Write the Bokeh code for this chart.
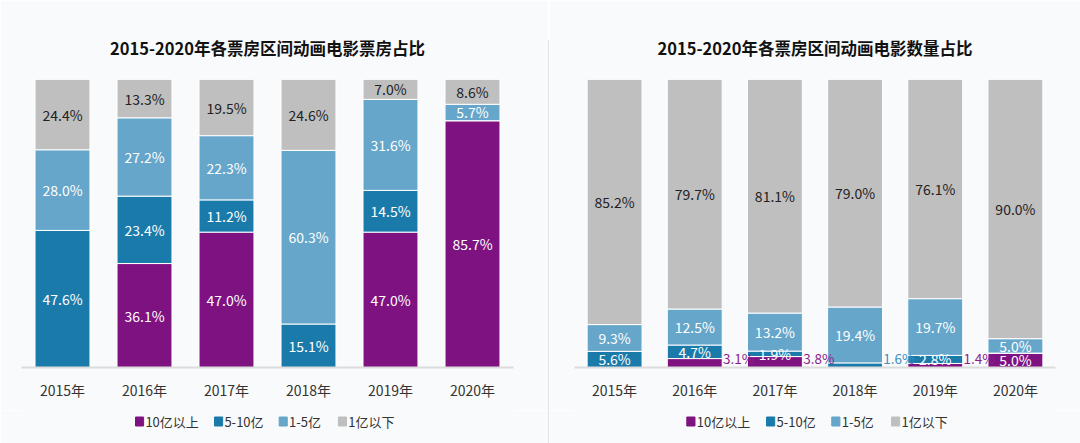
from bokeh.plotting import figure
from bokeh.layouts import row, column
from bokeh.models import ColumnDataSource, FactorRange, Range1d, Div
from bokeh.transform import dodge
from bokeh.core.properties import value
from bokeh.embed import file_html
from bokeh.resources import INLINE

years = ["2015年", "2016年", "2017年", "2018年", "2019年", "2020年"]
series = ["10亿以上", "5-10亿", "1-5亿", "1亿以下"]
colors = ["#7e1281", "#1a7bab", "#65a6ca", "#bfbfbf"]

# 票房占比 (%)
box_over_10 = [0, 36.1, 47.0, 0, 47.0, 85.7]
box_5_10 = [47.6, 23.4, 11.2, 15.1, 14.5, 0]
box_1_5 = [28.0, 27.2, 22.3, 60.3, 31.6, 5.7]
box_under_1 = [24.4, 13.3, 19.5, 24.6, 7.0, 8.6]

# 数量占比 (%)
cnt_over_10 = [0, 3.1, 3.8, 0, 1.4, 5.0]
cnt_5_10 = [5.6, 4.7, 1.9, 1.6, 2.8, 0]
cnt_1_5 = [9.3, 12.5, 13.2, 19.4, 19.7, 5.0]
cnt_under_1 = [85.2, 79.7, 81.1, 79.0, 76.1, 90.0]

# labels drawn beside the bar instead of inside
cnt_outside = [("2016年", "10亿以上"), ("2017年", "10亿以上"),
               ("2018年", "5-10亿"), ("2019年", "10亿以上")]

FONT = "Noto Sans CJK SC"
BG = "#f9fafb"
label_colors_in = ["white", "white", "white", "#222222"]
label_colors_out = ["#8a1f8e", "#3d8fc4", "#3d8fc4", "#555555"]

CHART_H = 410
LEG_H = 33
legend_item_offsets = [0, 88, 160, 226]


def make_chart(title, data, width, left, right, bar_w, outside):
    p = figure(x_range=FactorRange(*years, range_padding=0), y_range=(0, 100),
               width=width, height=CHART_H, output_backend="svg", toolbar_location=None,
               min_border_left=left, min_border_right=right, min_border_top=79,
               min_border_bottom=CHART_H - 367, background_fill_color=BG,
               border_fill_color=BG, outline_line_color=None)
    p.title.text = title
    p.title.align = "center"
    p.title.text_font = FONT
    p.title.text_font_size = "16.5px"
    p.title.text_font_style = "bold"
    p.title.text_color = "#111111"
    p.title.standoff = 40

    src = {"x": years}
    for s, vals in zip(series, data):
        src[s] = vals
    source = ColumnDataSource(src)
    p.vbar_stack(series, x="x", width=bar_w, source=source, color=colors,
                 line_color="white", line_width=1)

    p.yaxis.visible = False
    p.grid.visible = False
    ax = p.xaxis[0]
    ax.axis_line_color = "#dcdcdc"
    ax.axis_line_width = 2
    ax.major_tick_line_color = None
    ax.major_tick_out = 0
    ax.major_label_standoff = 12
    ax.major_label_text_font = FONT
    ax.major_label_text_font_size = "14px"
    ax.major_label_text_color = "#333333"

    ins = {"x": [], "y": [], "t": [], "c": []}
    outs = {"x": [], "y": [], "t": [], "c": []}
    for i, yr in enumerate(years):
        base = 0.0
        for k, s in enumerate(series):
            v = data[k][i]
            if v > 0:
                if (yr, s) in outside:
                    outs["x"].append(yr); outs["y"].append(base)
                    outs["t"].append(f"{v:.1f}%"); outs["c"].append(label_colors_out[k])
                else:
                    ins["x"].append(yr); ins["y"].append(base + v / 2)
                    ins["t"].append(f"{v:.1f}%"); ins["c"].append(label_colors_in[k])
            base += v
    p.text(x="x", y="y", text="t", text_color="c", source=ColumnDataSource(ins),
           text_align="center", text_baseline="middle", text_font=value(FONT),
           text_font_size="14px")
    if outs["x"]:
        p.text(x=dodge("x", bar_w / 2 + 0.01, range=p.x_range), y="y", text="t",
               text_color="c", source=ColumnDataSource(outs), text_align="left",
               text_baseline="bottom", text_font=value(FONT), text_font_size="13.5px")
    return p


def make_legend(width, start):
    lf = figure(width=width, height=LEG_H, x_range=Range1d(0, width),
                y_range=Range1d(0, LEG_H), output_backend="svg", toolbar_location=None,
                min_border=0, background_fill_color=BG, border_fill_color=BG,
                outline_line_color=None)
    lf.axis.visible = False
    lf.grid.visible = False
    xs = [start + o for o in legend_item_offsets]
    yc = LEG_H - 11
    lf.rect(x=[x + 4.5 for x in xs], y=[yc] * len(xs), width=9, height=9,
            color=colors)
    lf.text(x=[x + 11 for x in xs], y=[yc] * len(xs), text=series,
            text_baseline="middle", text_align="left", text_font=value(FONT),
            text_font_size="13px", text_color="#333333")
    return lf


left_p = make_chart("2015-2020年各票房区间动画电影票房占比",
                    [box_over_10, box_5_10, box_1_5, box_under_1],
                    548, 21, 35, 0.67, [])
right_p = make_chart("2015-2020年各票房区间动画电影数量占比",
                     [cnt_over_10, cnt_5_10, cnt_1_5, cnt_under_1],
                     531, 25, 25, 0.685, cnt_outside)

left_col = column(left_p, make_legend(548, 127))
right_col = column(right_p, make_legend(531, 124))

divider = Div(width=1, height=403, margin=(40, 0, 0, 0),
              styles={"background-color": "#e2e2e2"})

layout = row(left_col, divider, right_col)
open("out.html", "w").write(file_html(layout, INLINE))
